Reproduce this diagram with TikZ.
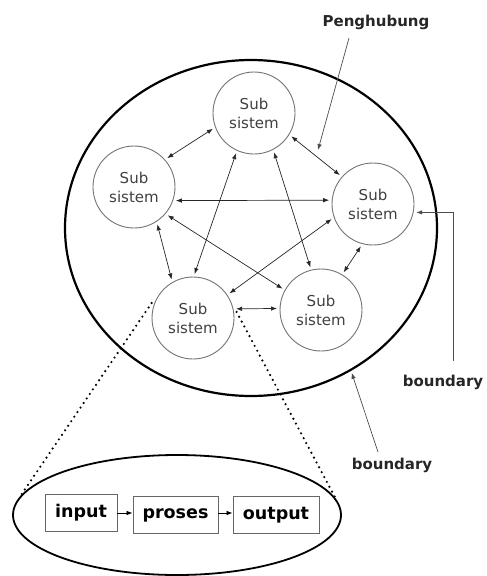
\documentclass[tikz,border=0pt]{standalone}
\usepackage{fontspec}
\setmainfont{DejaVu Sans}
\usetikzlibrary{arrows.meta,shapes.geometric}
\begin{document}
\begin{tikzpicture}[x=1pt,y=-1pt,
  sub/.style={circle,draw=black!55,line width=0.9pt,minimum size=82pt,inner sep=0pt,
    outer sep=3pt,align=center,text=black!75,font=\fontsize{15}{19}\selectfont},
  link/.style={{Latex[length=6pt,width=4.5pt]}-{Latex[length=6pt,width=4.5pt]},line width=0.7pt,black!85},
  pointer/.style={-{Latex[length=6pt,width=4.5pt]},line width=0.7pt,black!70},
  lbl/.style={font=\bfseries\fontsize{15}{18}\selectfont,text=black!85},
  stage/.style={draw=black!60,line width=0.9pt,inner sep=0pt,minimum height=37pt,
    font=\bfseries\fontsize{17.5}{20}\selectfont},
  zoomline/.style={line width=2.4pt,dash pattern=on 0pt off 5.5pt,line cap=round}]
\useasboundingbox (0,0) rectangle (487,576);

% system boundary
\node[ellipse,draw,line width=2.2pt,minimum width=372pt,minimum height=336pt,inner sep=0pt] (E) at (251,228) {};

% subsystems
\node[sub] (T)  at (254,113) {Sub\\sistem};
\node[sub] (L)  at (134,187) {Sub\\sistem};
\node[sub] (R)  at (373,204) {Sub\\sistem};
\node[sub] (BL) at (193,318) {Sub\\sistem};
\node[sub] (BR) at (321,310) {Sub\\sistem};

% interconnections
\draw[link] (T.201) -- (L.41);
\draw[link] (T.-32) -- (R.139);
\draw[link] (L.-18) -- (R.175);
\draw[link] (T.-114) -- (BL.88);
\draw[link] (T.-63) -- (BR.104);
\draw[link] (L.-58) -- (BL.119);
\draw[link] (L.-40) -- (BR.151);
\draw[link] (R.200) -- (BL.34);
\draw[link] (R.-106) -- (BR.59);
\draw[link] (BL.12) -- (BR.178);

% labels
\node[lbl] (pg) at (376,22) {Penghubung};
\coordinate (pgs) at (349,38);
\coordinate (pge) at (318,150);
\draw[pointer] (pgs) -- (pge);

\node[lbl] (b1) at (443,382) {boundary};
\coordinate (b1s) at (453,361);
\draw[pointer] (b1s) |- (R.-11);

\node[lbl] (b2) at (392,465) {boundary};
\coordinate (b2s) at (378,452);
\draw[pointer,shorten >=2pt] (b2s) -- (E.-55);

% detail of one subsystem
\node[ellipse,draw,line width=1.8pt,minimum width=328pt,minimum height=120pt,inner sep=0pt] (P) at (177,515) {};
\node[stage,minimum width=72pt] (in)  at (81,513)  {input};
\node[stage,minimum width=85pt] (pr)  at (175.5,515) {proses};
\node[stage,minimum width=86pt] (out) at (276,515) {output};
\draw[pointer,black] (in.east |- 0,513) -- (pr.west |- 0,513);
\draw[pointer,black] (pr.east |- 0,513) -- (out.west |- 0,513);

\draw[zoomline] (BL.160) -- (P.173);
\draw[zoomline] (BL.8) -- (P.6);
\end{tikzpicture}
\end{document}
